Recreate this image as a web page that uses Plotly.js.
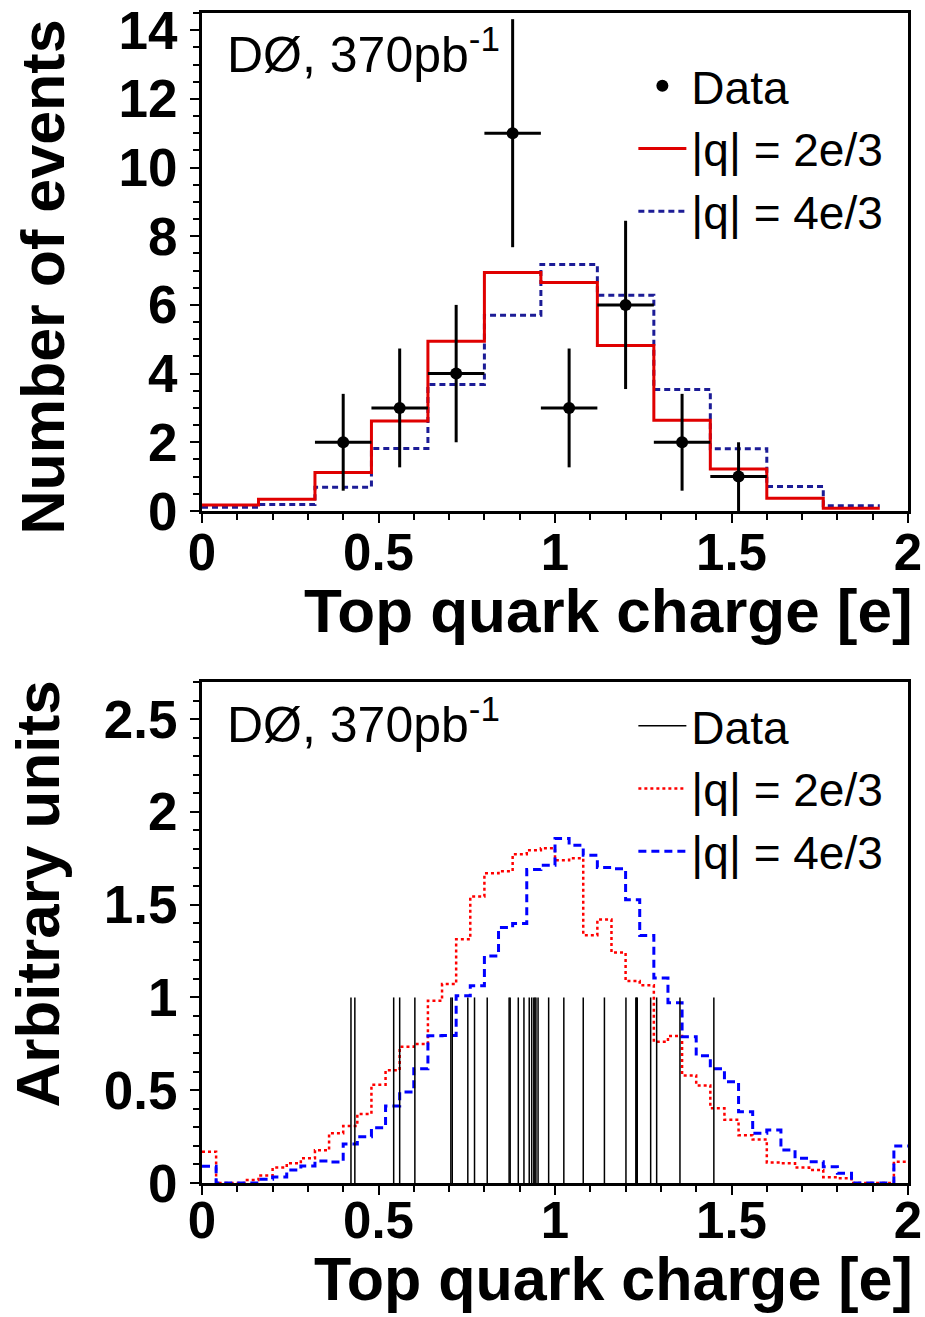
<!DOCTYPE html>
<html><head><meta charset="utf-8">
<script src="https://cdn.plot.ly/plotly-3.0.1.min.js"></script>
<style>html,body{margin:0;padding:0;background:#fff}#chart{width:925px;height:1317px}</style>
</head><body><div id="chart"></div>
<script>
// ---------- Top panel: reconstructed charge, event counts ----------
const topBinEdges = [0,0.16,0.32,0.48,0.64,0.80,0.96,1.12,1.28,1.44,1.60,1.76,1.92];
const topQ23 = [0.17,0.34,1.12,2.62,4.94,6.94,6.65,4.82,2.64,1.22,0.37,0.08];
const topQ43 = [0.11,0.19,0.69,1.82,3.68,5.70,7.18,6.28,3.54,1.81,0.71,0.15];
const topDataX = [0.40,0.56,0.72,0.88,1.04,1.20,1.36,1.52];
const topDataN = [2,3,4,11,3,6,2,1];
const topDataErr = [1.41,1.73,2.00,3.32,1.73,2.45,1.41,1.00];
const topDataXErr = 0.08;

// ---------- Bottom panel: templates (arbitrary units) and data events ----------
const botBinEdges = [0,0.04,0.08,0.12,0.16,0.20,0.24,0.28,0.32,0.36,0.40,0.44,0.48,0.52,0.56,0.60,0.64,0.68,0.72,0.76,
  0.80,0.84,0.88,0.92,0.96,1.00,1.04,1.08,1.12,1.16,1.20,1.24,1.28,1.32,1.36,1.40,1.44,1.48,1.52,1.56,
  1.60,1.64,1.68,1.72,1.76,1.80,1.84,1.88,1.92,1.96,2.00];
const botQ23 = [0.169,0,0,0.016,0.040,0.083,0.106,0.133,0.176,0.268,0.307,0.372,0.530,0.608,0.734,0.749,0.982,1.072,1.314,1.544,
  1.669,1.680,1.772,1.793,1.804,1.739,1.750,1.335,1.420,1.242,1.088,1.066,0.761,0.792,0.580,0.526,0.403,0.341,0.258,0.235,
  0.111,0.106,0.083,0.070,0.031,0.025,0,0,0,0.115];
const botQ43 = [0.090,0,0,0,0.020,0.032,0.070,0.092,0.118,0.113,0.210,0.249,0.298,0.415,0.490,0.616,0.793,0.795,1.009,1.063,
  1.224,1.377,1.398,1.689,1.712,1.856,1.820,1.766,1.700,1.694,1.526,1.334,1.105,0.972,0.788,0.686,0.616,0.546,0.384,0.268,
  0.285,0.178,0.133,0.115,0.088,0.052,0,0,0,0.200];
const botDataQ = [0.422,0.433,0.543,0.560,0.603,0.705,0.709,0.753,0.772,0.808,0.870,0.873,0.896,0.912,0.927,0.934,
  0.940,0.943,0.946,0.952,0.982,1.025,1.080,1.140,1.201,1.229,1.231,1.233,1.271,1.288,1.354,1.450];
const botDataHeight = 1;

const legendNames = ['Data','|q| = 2e/3','|q| = 4e/3'];
const labelTop = 'DØ, 370pb<sup>-1</sup>';
const xTitle = 'Top quark charge [e]';
const yTitleTop = 'Number of events';
const yTitleBot = 'Arbitrary units';

function stepY(v){ return v.concat([v[v.length-1]]); }

const FONT = 'Liberation Sans, Arial, Helvetica, sans-serif';

const traces = [
  {x: topBinEdges, y: stepY(topQ43), mode:'lines', line:{shape:'hv', color:'#1c1c96', width:3, dash:'6px,4px'},
   name: legendNames[2], legendrank:3, xaxis:'x', yaxis:'y', legend:'legend'},
  {x: topBinEdges, y: stepY(topQ23), mode:'lines', line:{shape:'hv', color:'#e00000', width:3},
   name: legendNames[1], legendrank:2, xaxis:'x', yaxis:'y', legend:'legend'},
  {x: topDataX, y: topDataN, mode:'markers', marker:{color:'black', size:12},
   error_y:{type:'data', array: topDataErr, color:'black', thickness:3, width:0},
   error_x:{type:'constant', value: topDataXErr, color:'black', thickness:3, width:0},
   name: legendNames[0], legendrank:1, xaxis:'x', yaxis:'y', legend:'legend'},
  {x: botBinEdges, y: stepY(botQ23), mode:'lines', line:{shape:'hv', color:'#ff0000', width:2.5, dash:'dot'},
   name: legendNames[1], legendrank:2, xaxis:'x2', yaxis:'y2', legend:'legend2'},
  {x: botBinEdges, y: stepY(botQ43), mode:'lines', line:{shape:'hv', color:'#0000ff', width:3, dash:'8px,5px'},
   name: legendNames[2], legendrank:3, xaxis:'x2', yaxis:'y2', legend:'legend2'},
  {x: botDataQ.flatMap(q => [q, q, null]), y: botDataQ.flatMap(() => [0, botDataHeight, null]),
   mode:'lines', line:{color:'black', width:1.5},
   name: legendNames[0], legendrank:1, xaxis:'x2', yaxis:'y2', legend:'legend2'}
];

function xAxis(anchor, standoff){
  return {anchor: anchor, domain:[0,1], range:[0,2], tickmode:'linear', tick0:0, dtick:0.5,
    ticks:'outside', ticklen:9, tickwidth:2, tickcolor:'black',
    minor:{tickmode:'linear', tick0:0, dtick:0.1, ticks:'outside', ticklen:6, tickwidth:2, tickcolor:'black'},
    showline:true, linewidth:3, linecolor:'black', mirror:true, showgrid:false, zeroline:false,
    tickfont:{family:FONT, size:51, weight:'bold', color:'black'}, ticklabelstandoff:standoff, automargin:false};
}
function yAxis(anchor, dom, rng, dt, mdt){
  return {anchor: anchor, domain: dom, range: rng, tickmode:'linear', tick0:0, dtick:dt,
    ticks:'outside', ticklen:9, tickwidth:2, tickcolor:'black',
    minor:{tickmode:'linear', tick0:0, dtick:mdt, ticks:'outside', ticklen:6, tickwidth:2, tickcolor:'black'},
    showline:true, linewidth:3, linecolor:'black', mirror:true, showgrid:false, zeroline:false,
    tickfont:{family:FONT, size:53, weight:'bold', color:'black'}, ticklabelstandoff:2, automargin:false};
}

const legendCommon = {xanchor:'left', yanchor:'top', bgcolor:'rgba(0,0,0,0)', borderwidth:0,
  font:{family:FONT, size:46, color:'black'}, itemwidth:48, traceorder:'normal'};

const layout = {
  width:925, height:1317,
  margin:{l:202, r:17, t:13, b:134, pad:0},
  paper_bgcolor:'white', plot_bgcolor:'white',
  font:{family:FONT, color:'black'},
  showlegend:true,
  xaxis: xAxis('y', -14),
  yaxis: yAxis('x', [0.5744,1], [0,14.5], 2, 0.5),
  xaxis2: xAxis('y2', -18),
  yaxis2: yAxis('x2', [0,0.4282], [0,2.7], 0.5, 0.1),
  legend: Object.assign({x:0.611, y:0.969}, legendCommon),
  legend2: Object.assign({x:0.611, y:0.422}, legendCommon),
  annotations: [
    {text: labelTop, xref:'paper', yref:'paper', x:0.0326, y:0.9675, xanchor:'left', yanchor:'middle',
     showarrow:false, font:{family:FONT, size:50, color:'black'}},
    {text: labelTop, xref:'paper', yref:'paper', x:0.0326, y:0.3948, xanchor:'left', yanchor:'middle',
     showarrow:false, font:{family:FONT, size:50, color:'black'}},
    {text: xTitle, xref:'paper', yref:'paper', x:1.0099, y:0.4897, xanchor:'right', yanchor:'middle',
     showarrow:false, font:{family:FONT, size:62, weight:'bold', color:'black'}},
    {text: xTitle, xref:'paper', yref:'paper', x:1.0099, y:-0.1128, xanchor:'right', yanchor:'bottom',
     showarrow:false, font:{family:FONT, size:61, weight:'bold', color:'black'}},
    {text: yTitleTop, xref:'paper', yref:'paper', x:-0.2265, y:0.9957, xanchor:'center', yanchor:'top',
     textangle:-90, showarrow:false, font:{family:FONT, size:61, weight:'bold', color:'black'}},
    {text: yTitleBot, xref:'paper', yref:'paper', x:-0.2323, y:0.4316, xanchor:'center', yanchor:'top',
     textangle:-90, showarrow:false, font:{family:FONT, size:62, weight:'bold', color:'black'}}
  ]
};

Plotly.newPlot('chart', traces, layout, {displayModeBar:false, staticPlot:true});
</script>
</body></html>
